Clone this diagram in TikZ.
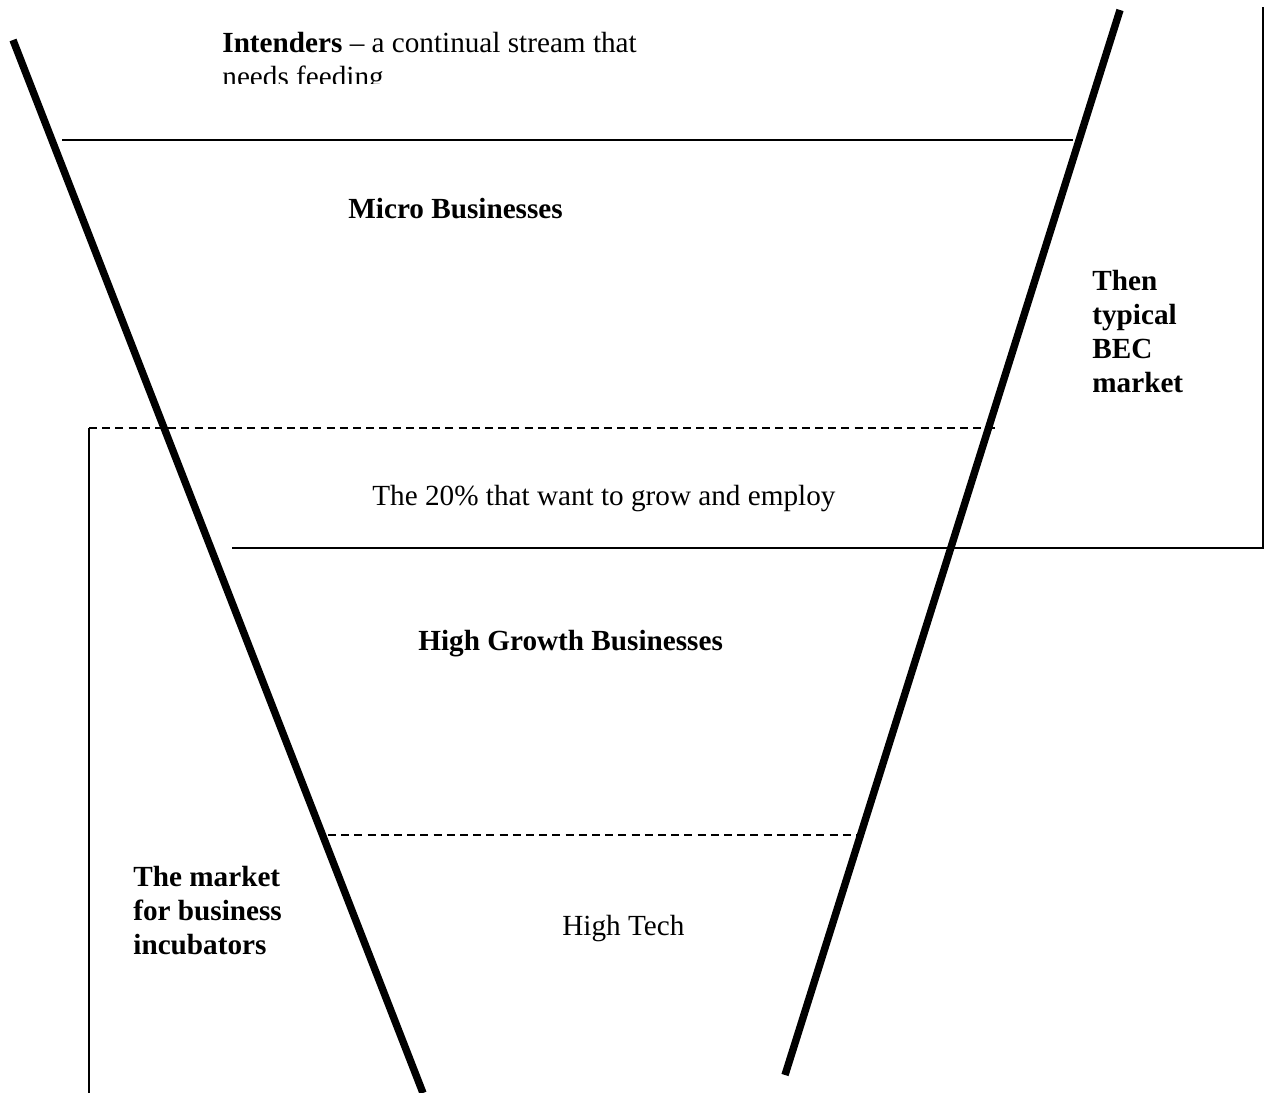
\documentclass[tikz,border=0pt]{standalone}
\usepackage{fontspec}
\setmainfont{Liberation Serif}
\begin{document}
\begin{tikzpicture}[x=0.5pt,y=-0.5pt,
  thinline/.style={line width=0.9pt},
  dashline/.style={line width=0.9pt,dash pattern=on 4pt off 2.6pt},
  funnel/.style={line width=3.7pt,line cap=butt},
  lbl/.style={inner sep=0pt,anchor=base west,font=\fontsize{14.6}{17}\selectfont},
  blbl/.style={lbl,font=\fontsize{14.6}{17}\selectfont\bfseries,text width=90pt,align=flush left}]
\useasboundingbox (0,0) rectangle (1271,1093);
% coordinates
\coordinate (l1a) at (62,140);   \coordinate (l1b) at (1073,140);
\coordinate (d1a) at (89,428);   \coordinate (d1b) at (997,428);
\coordinate (v1b) at (89,1093);
\coordinate (s2a) at (232,548);  \coordinate (s2b) at (1263,548);
\coordinate (v2t) at (1263,7);
\coordinate (d2a) at (328,835);  \coordinate (d2b) at (857,835);
\coordinate (fl1) at (13,40);    \coordinate (fl2) at (423,1093);
\coordinate (fr1) at (1120,10);  \coordinate (fr2) at (785,1075);
% thin lines
\draw[thinline] (l1a) -- (l1b);
\draw[dashline] (d1a) -- (d1b);
\draw[thinline] (d1a) -- (v1b);
\draw[thinline] (s2a) -- (s2b) -- (v2t);
\draw[dashline] (d2a) -- (d2b);
% funnel sides
\draw[funnel] (fl1) -- (fl2);
\draw[funnel] (fr1) -- (fr2);
% texts
\begin{scope}
\clip (200,0) rectangle (760,83);
\node[lbl,text width=260pt,align=flush left] (intenders) at (222,52) {\textbf{Intenders} -- a continual stream that\\needs feeding};
\end{scope}
\node[lbl,font=\fontsize{14.6}{17}\selectfont\bfseries] (micro) at (348,218) {Micro Businesses};
\node[blbl] (bec) at (1092,290) {Then\\typical\\BEC\\market};
\node[lbl] (twenty) at (372,505) {The 20\% that want to grow and employ};
\node[lbl,font=\fontsize{14.6}{17}\selectfont\bfseries] (high) at (418,650) {High Growth Businesses};
\node[blbl] (incub) at (133,886) {The market\\for business\\incubators};
\node[lbl] (tech) at (562,935) {High Tech};
\end{tikzpicture}
\end{document}
